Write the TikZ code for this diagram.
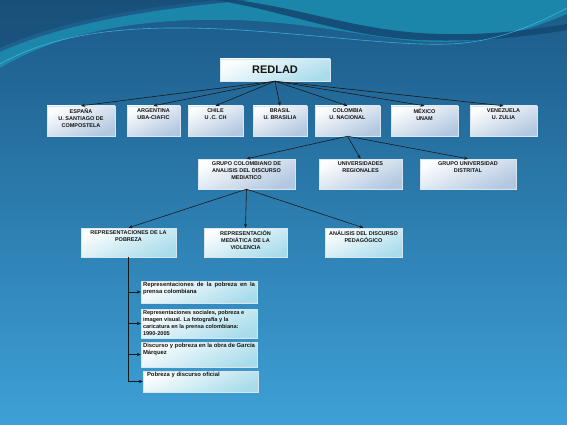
\documentclass[tikz,border=0pt]{standalone}
\usepackage{fontspec}
\setmainfont{Liberation Sans}
\usetikzlibrary{arrows.meta}
\definecolor{bgtop}{HTML}{1B5A88}
\definecolor{bgbot}{HTML}{3EA0D6}
\definecolor{teal}{HTML}{1C8DB0}
\definecolor{darkband}{HTML}{134A74}
\definecolor{boxblue}{HTML}{B2C7E0}
\definecolor{boxcyan}{HTML}{A9DCEB}
\definecolor{boxline}{HTML}{D8E6F2}
\definecolor{txt}{HTML}{141414}
\newcommand\boxtxt[3]{\parbox[c][#2][t]{#1}{\vspace*{2.6pt}\centering #3\par}}
\newcommand\listtxt[3]{\parbox[c][#2][t]{#1}{\vspace*{1.4pt}\leftskip=2pt\rightskip=2pt\parindent=0pt\hyphenpenalty=10000 #3\par}}
\begin{document}
\begin{tikzpicture}[x=1pt,y=-1pt,
  boxb/.style={draw=boxline, line width=0.4pt, inner sep=0pt, text=txt,
    top color=white!96!boxblue, bottom color=boxblue, shading angle=25,
    font=\fontsize{5.5}{7}\selectfont\bfseries},
  boxc/.style={boxb, top color=white!96!boxcyan, bottom color=boxcyan, shading angle=25},
  listbox/.style={boxc, font=\fontsize{5.9}{6.9}\selectfont\bfseries},
  arr/.style={-{Stealth[length=4pt,width=3.2pt]}, line width=0.6pt, draw=black!90},
  ln/.style={line width=0.6pt, draw=black!90}]
% background
\fill[top color=bgtop, bottom color=bgbot] (0,0) rectangle (567,425);
\useasboundingbox (0,0) rectangle (567,425);
% top waves
\fill[teal, opacity=0.85] (0,68) .. controls (60,32) and (140,18) .. (230,20)
  .. controls (320,22) and (380,42) .. (440,42) .. controls (500,42) and (540,25) .. (567,14)
  -- (567,0) -- (250,0) .. controls (190,6) and (80,16) .. (0,52) -- cycle;
\fill[darkband, opacity=0.9] (235,0) .. controls (300,8) and (350,28) .. (420,33)
  .. controls (480,37) and (530,30) .. (567,24) -- (567,30) .. controls (520,38) and (470,42) .. (420,40)
  .. controls (340,36) and (290,12) .. (215,0) -- cycle;
\fill[bgtop!80!black, opacity=0.5] (0,0) -- (220,0) .. controls (150,6) and (60,20) .. (0,48) -- cycle;
\draw[cyan!70!white, line width=0.6pt, opacity=0.7] (0,64) .. controls (60,30) and (140,24) .. (240,30)
  .. controls (330,36) and (400,46) .. (450,44) .. controls (500,42) and (540,22) .. (567,8);
% nodes
\node[boxc, font=\fontsize{11}{12}\selectfont\bfseries, minimum width=110pt, minimum height=22pt] (red) at (275,70) {REDLAD};
\node[boxb] (esp) at (81,121) {\boxtxt{68pt}{30pt}{ESPAÑA\\U. SANTIAGO DE\\COMPOSTELA}};
\node[boxb] (arg) at (153.5,121) {\boxtxt{53pt}{30pt}{ARGENTINA\\UBA-CIAFIC}};
\node[boxb] (chi) at (215.5,121) {\boxtxt{55pt}{30pt}{CHILE\\U .C. CH}};
\node[boxb] (bra) at (280,121) {\boxtxt{54pt}{30pt}{BRASIL\\U. BRASILIA}};
\node[boxb] (col) at (347.5,121) {\boxtxt{65pt}{30pt}{COLOMBIA\\U. NACIONAL}};
\node[boxb] (mex) at (424.5,121) {\boxtxt{67pt}{30pt}{MÉXICO\\UNAM}};
\node[boxb] (ven) at (503.5,121) {\boxtxt{67pt}{30pt}{VENEZUELA\\U. ZULIA}};
\node[boxb] (gcol) at (246.5,174) {\boxtxt{97pt}{30pt}{GRUPO COLOMBIANO DE\\ANALISIS DEL DISCURSO\\MEDIATICO}};
\node[boxb] (ureg) at (360.5,174) {\boxtxt{83pt}{30pt}{UNIVERSIDADES\\REGIONALES}};
\node[boxb] (gud) at (468,174) {\boxtxt{96pt}{30pt}{GRUPO UNIVERSIDAD\\DISTRITAL}};
\node[boxc] (rpob) at (128.5,242.5) {\boxtxt{95pt}{29pt}{REPRESENTACIONES DE LA\\POBREZA}};
\node[boxc] (rmed) at (245.5,242.5) {\boxtxt{83pt}{29pt}{REPRESENTACIÓN\\MEDIÁTICA DE LA\\VIOLENCIA}};
\node[boxc] (adp) at (363.5,242.5) {\boxtxt{77pt}{29pt}{ANÁLISIS DEL DISCURSO\\PEDAGÓGICO}};
\node[listbox] (l1) at (199,292) {\listtxt{116pt}{22pt}{Representaciones de la pobreza en la\linebreak prensa colombiana}};
\node[listbox, font=\fontsize{5.6}{6.9}\selectfont\bfseries] (l2) at (199,323.5) {\listtxt{116pt}{29pt}{Representaciones sociales, pobreza e\\ imagen visual. La fotografía y la\\ caricatura en la prensa colombiana:\\ 1990-2005}};
\node[listbox] (l3) at (199,354.5) {\listtxt{116pt}{25pt}{Discurso y pobreza en la obra de García\\ Márquez}};
\node[listbox] (l4) at (200.5,381.5) {\listtxt{115pt}{21pt}{\hspace*{2pt}Pobreza y discurso oficial}};
% connectors
\foreach \t in {esp,arg,chi,bra,col,mex,ven} \draw[arr] (red.south) -- (\t.north);
\foreach \t in {gcol,ureg,gud} \draw[arr] (col.south) -- (\t.north);
\foreach \t in {rpob,rmed,adp} \draw[arr] (gcol.south) -- (\t.north);
\draw[ln] (rpob.south) -- (rpob.south |- l4.west);
\foreach \t in {l1,l2,l3,l4} \draw[arr] (rpob.south |- \t.west) -- (\t.west);
\end{tikzpicture}
\end{document}
